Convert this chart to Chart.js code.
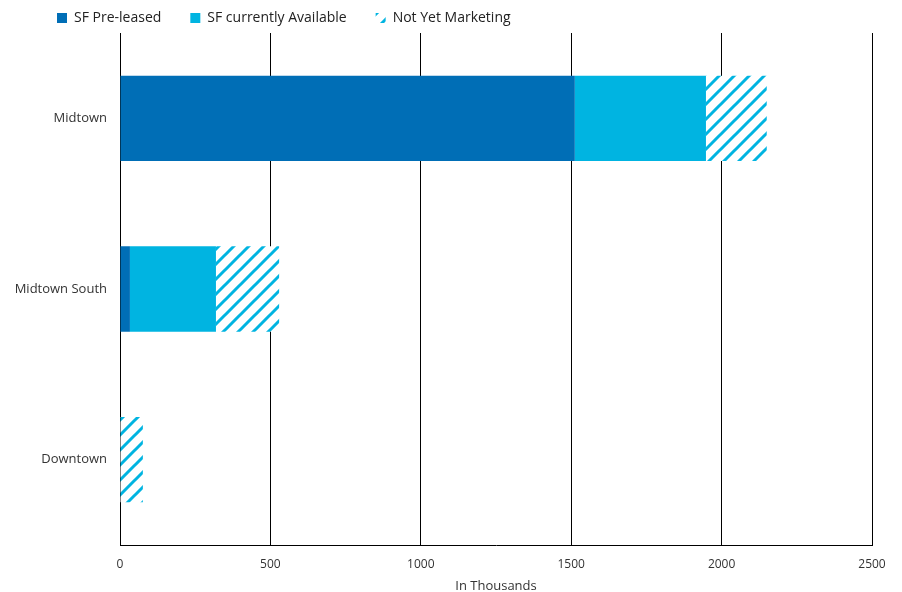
<!DOCTYPE html>
<html>
<head>
<meta charset="utf-8">
<script src="https://cdn.jsdelivr.net/npm/chart.js@4/dist/chart.umd.min.js"></script>
<style>
  html, body { margin: 0; padding: 0; background: #fff; }
  #wrap { width: 902px; height: 592px; }
</style>
</head>
<body>
<div id="wrap"><canvas id="chart" width="902" height="592"></canvas></div>
<script>
// values in thousands of SF
const categories = ['Midtown', 'Midtown South', 'Downtown'];
const preLeased = [1512, 33, 0];
const available = [436, 286, 0];
const notYetMarketing = [202, 210, 76];
const xTicks = [0, 500, 1000, 1500, 2000, 2500];

const DARK_BLUE = '#006eb6';
const LIGHT_BLUE = '#00b4e1';

// diagonal stripes for the "not yet marketing" segment
function makeHatch(color) {
  const size = 15;
  const c = document.createElement('canvas');
  c.width = size;
  c.height = size;
  const ctx = c.getContext('2d');
  ctx.fillStyle = '#fff';
  ctx.fillRect(0, 0, size, size);
  ctx.strokeStyle = color;
  ctx.lineWidth = 3;
  ctx.beginPath();
  ctx.moveTo(-2, size + 2);
  ctx.lineTo(size + 2, -2);
  ctx.moveTo(-2, 2);
  ctx.lineTo(2, -2);
  ctx.moveTo(size - 2, size + 2);
  ctx.lineTo(size + 2, size - 2);
  ctx.stroke();
  return ctx.createPattern(c, 'repeat');
}

// legend sits a bit in from the left edge
const legendOffset = {
  id: 'legendOffset',
  afterLayout(chart) {
    chart.legend.left += 28;
    chart.legend.right += 28;
  }
};

const family = "'Open Sans', 'Noto Sans', sans-serif";

new Chart(document.getElementById('chart'), {
  type: 'bar',
  data: {
    labels: categories,
    datasets: [
      { label: 'SF Pre-leased', data: preLeased, backgroundColor: DARK_BLUE, borderWidth: 0 },
      { label: 'SF currently Available', data: available, backgroundColor: LIGHT_BLUE, borderWidth: 0 },
      { label: 'Not Yet Marketing', data: notYetMarketing, backgroundColor: makeHatch(LIGHT_BLUE), borderWidth: 0 }
    ]
  },
  plugins: [legendOffset],
  options: {
    indexAxis: 'y',
    responsive: false,
    animation: false,
    barPercentage: 0.5,
    categoryPercentage: 1,
    layout: {
      padding: { left: 0, right: 30, top: -18, bottom: 0 }
    },
    scales: {
      x: {
        stacked: true,
        min: 0,
        max: 2500,
        afterBuildTicks: (scale) => {
          scale.ticks = xTicks.map(v => ({ value: v }));
        },
        afterFit: (scale) => { scale.height = 47; },
        grid: { color: '#000', lineWidth: 1, drawTicks: false },
        border: { color: '#000', width: 1 },
        ticks: {
          color: '#333',
          font: { family, size: 12 },
          padding: 12,
          callback: (v) => String(v)
        },
        title: {
          display: true,
          text: 'In Thousands',
          color: '#333',
          font: { family, size: 13 },
          padding: { top: 0, bottom: -2 }
        }
      },
      y: {
        stacked: true,
        afterFit: (scale) => { scale.width = 120; },
        grid: { display: false, drawTicks: false },
        border: { color: '#000', width: 1 },
        ticks: { color: '#333', font: { family, size: 13 }, padding: 13 }
      }
    },
    plugins: {
      legend: {
        position: 'top',
        align: 'start',
        maxHeight: 51,
        labels: {
          boxWidth: 10,
          boxHeight: 10,
          padding: 29,
          color: '#222',
          font: { family, size: 14 }
        }
      },
      tooltip: { enabled: false }
    }
  }
});
</script>
</body>
</html>
